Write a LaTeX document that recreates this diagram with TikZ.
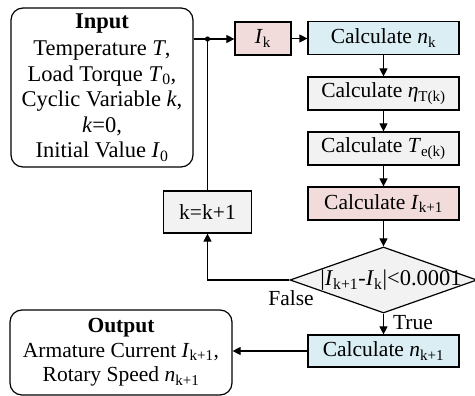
\documentclass[tikz,border=0pt]{standalone}
\usepackage{fontspec}
\setmainfont{Liberation Serif}
\usetikzlibrary{arrows.meta,shapes.geometric}
\definecolor{pinkfill}{HTML}{F2DCDB}
\definecolor{bluefill}{HTML}{DAEEF3}
\definecolor{grayfill}{HTML}{F2F2F2}
\newcommand{\sbs}[1]{\textsubscript{#1}}
\begin{document}
\begin{tikzpicture}[x=1pt,y=-1pt,
  every node/.style={font=\fontsize{21.5}{25.5}\selectfont},
  box/.style={draw, line width=1.2pt, inner sep=0pt, minimum height=33pt},
  calcbox/.style={box, minimum width=151pt},
  rbox/.style={draw, line width=1.2pt, rounded corners=12pt, align=center, inner sep=0pt},
  arr/.style={line width=1.1pt, -{Triangle[length=8pt,width=8pt]}},
  conn/.style={line width=1.1pt}]
\useasboundingbox (0,0) rectangle (475,396);
% input
\node[rbox, minimum width=182pt, minimum height=159pt, font=\fontsize{22.5}{25.5}\selectfont] (in) at (102,87.5)
  {\textbf{Input}\\[2pt]Temperature \textit{T},\\Load Torque \textit{T}\sbs{0},\\Cyclic Variable \textit{k},\\\textit{k}=0,\\Initial Value \textit{I}\sbs{0}};
% column
\node[box, fill=pinkfill, minimum width=56pt] (ik) at (263,38.5) {\textit{I}\sbs{k}};
\node[calcbox, fill=bluefill] (nk) at (383.5,38) {Calculate \textit{n}\sbs{k}};
\node[calcbox, fill=grayfill] (eta) at (383.5,93.5) {Calculate \textit{η}\sbs{T(k)}};
\node[calcbox, fill=grayfill] (te) at (383.5,148.5) {Calculate \textit{T}\sbs{e(k)}};
\node[calcbox, fill=pinkfill] (ik1) at (383.5,203.5) {Calculate \textit{I}\sbs{k+1}};
\node[diamond, draw, line width=1.2pt, fill=grayfill, minimum width=187pt, minimum height=66pt, inner sep=0pt] (dec) at (383.5,280) {};
\node[font=\fontsize{22.5}{25.5}\selectfont] (dectext) at (391,280) {|\textit{I}\sbs{k+1}-\textit{I}\sbs{k}|<0.0001};
\node[calcbox, fill=bluefill, minimum height=32pt] (nk1) at (383.5,351) {Calculate \textit{n}\sbs{k+1}};
\node[box, fill=grayfill, minimum width=88pt, minimum height=42pt] (kb) at (207.5,212) {k=k+1};
% output
\node[rbox, minimum width=222pt, minimum height=85pt] (out) at (121,352.5)
  {\textbf{Output}\\[-1pt]Armature Current \textit{I}\sbs{k+1},\\[-1pt]Rotary Speed \textit{n}\sbs{k+1}};
% connectors
\coordinate (j) at (207.5,39);
\draw[arr] (in.east |- j) -- (ik.west |- j);
\fill (j) circle (2.6pt);
\draw[conn] (j) -- (kb.north);
\draw[arr] (ik.east) -- (nk.west |- ik.east);
\draw[arr] (nk.south) -- (eta.north);
\draw[arr] (eta.south) -- (te.north);
\draw[arr] (te.south) -- (ik1.north);
\draw[arr] (ik1.south) -- (dec.north);
\draw[arr] (dec.west) -| (kb.south);
\draw[arr] (dec.south) -- (nk1.north);
\draw[arr] (nk1.west) -- (nk1.west -| out.east);
\node (false) at (291,298) {False};
\node (true) at (413,323) {True};
\end{tikzpicture}
\end{document}
